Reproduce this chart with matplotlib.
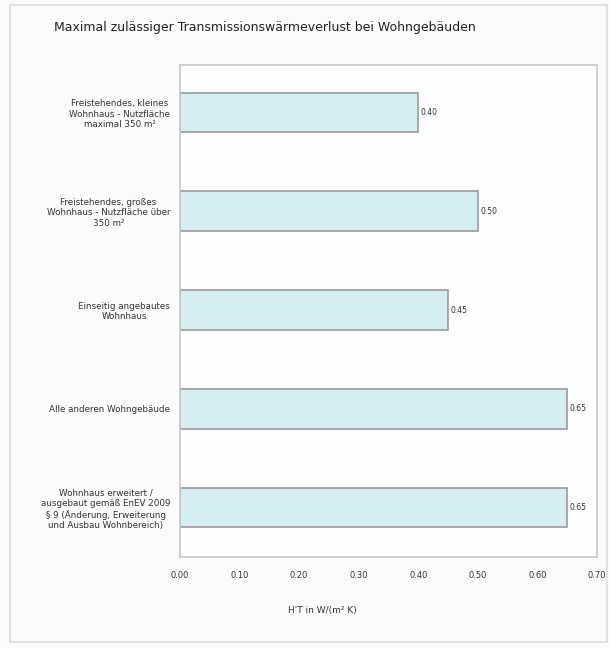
import matplotlib
matplotlib.use("Agg")
import matplotlib.pyplot as plt
from matplotlib.patches import Rectangle

# Data
categories = [
    "Freistehendes, kleines\nWohnhaus - Nutzfläche\nmaximal 350 m²",
    "Freistehendes, großes\nWohnhaus - Nutzfläche über\n350 m²",
    "Einseitig angebautes\nWohnhaus",
    "Alle anderen Wohngebäude",
    "Wohnhaus erweitert /\nausgebaut gemäß EnEV 2009\n§ 9 (Änderung, Erweiterung\nund Ausbau Wohnbereich)",
]
values = [0.40, 0.50, 0.45, 0.65, 0.65]
xticks = [0.0, 0.1, 0.2, 0.3, 0.4, 0.5, 0.6, 0.7]
title = "Maximal zulässiger Transmissionswärmeverlust bei Wohngebäuden"
xlabel = "H'T in W/(m² K)"

W, H = 610, 648
fig = plt.figure(figsize=(W / 100, H / 100), dpi=100)
fig.patch.set_facecolor("#fafbfd")

# outer frame
fig.patches.append(Rectangle((10 / W, 1 - 642 / H), 597 / W, 637 / H,
                             transform=fig.transFigure, fill=False,
                             edgecolor="#dcdcdc", linewidth=1.2))

left, right, top, bottom = 180, 597, 65, 557
ax = fig.add_axes([left / W, 1 - bottom / H, (right - left) / W, (bottom - top) / H])
ax.set_facecolor("#fcfdfe")

ypos = list(range(len(categories)))
ax.barh(ypos, values, height=0.4, color="#d6edf1", edgecolor="#9a9a9a", linewidth=1.2)
for y, v in zip(ypos, values):
    ax.text(v + 0.004, y, f"{v:.2f}", va="center", ha="left", fontsize=5.5, color="#333333")

ax.set_xlim(0, 0.7)
ax.set_ylim(4.5, -0.48)
ax.set_xticks(xticks)
ax.set_xticklabels([f"{t:.2f}" for t in xticks], fontsize=6, color="#333333")
ax.set_yticks(ypos)
ax.set_yticklabels(categories, fontsize=6.3, color="#333333", multialignment="center")
ax.tick_params(axis="x", length=0, pad=10)
ax.tick_params(axis="y", length=0, pad=7)
for s in ax.spines.values():
    s.set_color("#c8c8c8")
    s.set_linewidth(1.2)

fig.text(265 / W, 1 - 27 / H, title, ha="center", va="center", fontsize=9, color="#222222")
fig.text(322 / W, 1 - 611 / H, xlabel, ha="center", va="center", fontsize=6.5, color="#333333")

fig.savefig("out.png", dpi=100, facecolor=fig.get_facecolor())
